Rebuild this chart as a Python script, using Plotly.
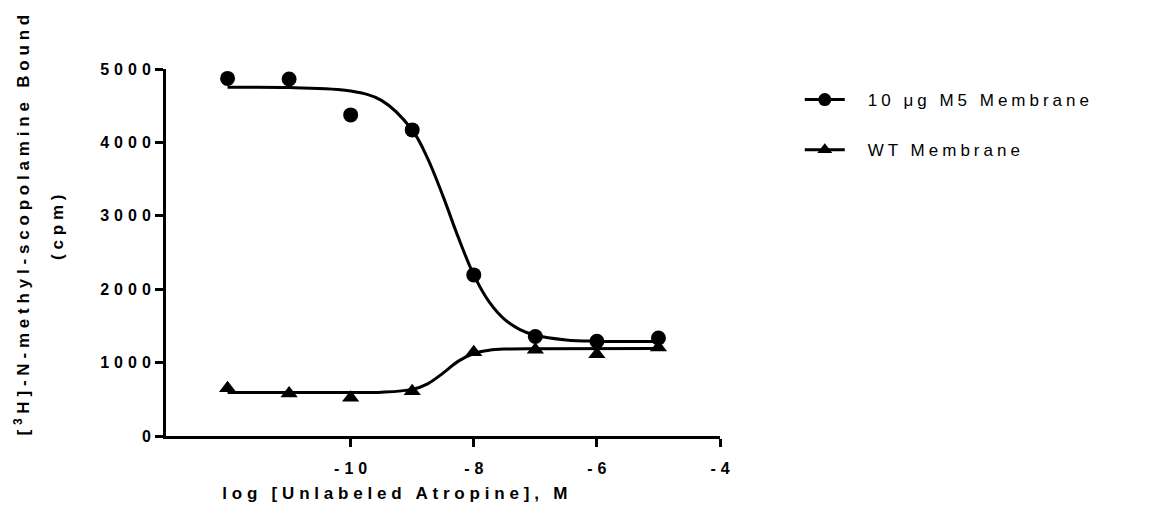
import plotly.graph_objects as go

# log [Unlabeled Atropine], M
x_points = [-12, -11, -10, -9, -8, -7, -6, -5]
m5_points = [4872, 4864, 4375, 4170, 2195, 1355, 1290, 1335]
wt_points = [650, 580, 520, 610, 1140, 1175, 1115, 1205]

# fitted curves
m5_curve_x = [-12, -11, -10, -9.5, -9, -8.75, -8.5, -8.25, -8, -7.75, -7.5, -7.25, -7, -6.5, -6, -5]
m5_curve_y = [4750, 4747, 4701, 4573, 4169, 3783, 3268, 2702, 2195, 1826, 1588, 1449, 1372, 1309, 1291, 1286]
wt_curve_x = [-12, -10, -9.5, -9, -8.75, -8.5, -8.25, -8, -7.75, -7.5, -7, -5]
wt_curve_y = [591, 592, 596, 635, 711, 857, 1020, 1124, 1168, 1184, 1190, 1191]

x_ticks = [-10, -8, -6, -4]
y_ticks = [0, 1000, 2000, 3000, 4000, 5000]

series_names = ["10 μg M5 Membrane", "WT Membrane"]
x_title = "log [Unlabeled Atropine], M"
y_title = "[<sup>3</sup>H]-N-methyl-scopolamine Bound"
y_title_2 = "(cpm)"

FONT = "Liberation Sans, Arial, sans-serif"
fig = go.Figure()

fig.add_trace(go.Scatter(x=m5_curve_x, y=m5_curve_y, mode="lines", line=dict(color="black", width=3, shape="spline"),
                         showlegend=False, hoverinfo="skip"))
fig.add_trace(go.Scatter(x=wt_curve_x, y=wt_curve_y, mode="lines", line=dict(color="black", width=3, shape="spline"),
                         showlegend=False, hoverinfo="skip"))
fig.add_trace(go.Scatter(x=x_points, y=m5_points, mode="markers",
                         marker=dict(symbol="circle", size=15, color="black"), showlegend=False))
fig.add_trace(go.Scatter(x=x_points, y=wt_points, mode="markers",
                         marker=dict(symbol="triangle-up", size=15, color="black"), showlegend=False))

# legend entries
fig.add_trace(go.Scatter(x=[None], y=[None], mode="lines+markers", name=series_names[0],
                         line=dict(color="black", width=3), marker=dict(symbol="circle", size=13, color="black"),
                         legend="legend"))
fig.add_trace(go.Scatter(x=[None], y=[None], mode="lines+markers", name=series_names[1],
                         line=dict(color="black", width=3), marker=dict(symbol="triangle-up", size=13, color="black"),
                         legend="legend2"))

axis_common = dict(showline=True, linewidth=3, linecolor="black", ticks="outside", ticklen=8, tickwidth=3,
                   tickcolor="black", showgrid=False, zeroline=False,
                   tickfont=dict(family=FONT, size=16, color="black", weight="bold"))

legend_common = dict(xanchor="left", yanchor="middle", bgcolor="rgba(0,0,0,0)", itemwidth=40,
                     font=dict(family=FONT, size=17, color="black"))

fig.update_layout(
    width=1155, height=526,
    margin=dict(l=158, r=443, t=61, b=98),
    plot_bgcolor="white", paper_bgcolor="white",
    xaxis=dict(range=[-13, -4], tickvals=x_ticks, ticktext=[str(v) for v in x_ticks],
               ticklabelstandoff=8, **axis_common),
    yaxis=dict(range=[0, 5000], tickvals=y_ticks, ticktext=[str(v) for v in y_ticks],
               ticklabelstandoff=1, **axis_common),
    legend=dict(x=1.144, y=0.9155, **legend_common),
    legend2=dict(x=1.144, y=0.779, **legend_common),
    annotations=[
        dict(text=x_title, xref="paper", yref="paper", x=0.417, y=0, yshift=-57,
             xanchor="center", yanchor="middle", showarrow=False,
             font=dict(family=FONT, size=17, color="black", weight="bold")),
        dict(text=y_title, xref="paper", yref="paper", x=0, y=0.58,
             xshift=-144, xanchor="center", yanchor="middle", textangle=-90, showarrow=False,
             font=dict(family=FONT, size=17, color="black", weight="bold")),
        dict(text=y_title_2, xref="paper", yref="paper", x=0, y=0.575,
             xshift=-108, xanchor="center", yanchor="middle", textangle=-90, showarrow=False,
             font=dict(family=FONT, size=17, color="black", weight="bold")),
    ],
)

post = """
var gd = document.getElementById('{plot_id}');
function spacing(){
  gd.querySelectorAll('.xtick text').forEach(function(t){ t.style.letterSpacing='5px'; t.setAttribute('dx', '2.5'); });
  gd.querySelectorAll('.ytick text').forEach(function(t){ t.style.letterSpacing='5px'; t.setAttribute('dx', '5'); });
  gd.querySelectorAll('.annotation-text').forEach(function(t){ t.style.letterSpacing='4.8px'; });
  gd.querySelectorAll('[class*="legend"] text.legendtext, .legendtext, g.legend2 text').forEach(function(t){
    t.style.letterSpacing='4px'; t.setAttribute('dx', '18'); });
  gd.querySelectorAll('[class*="legend"], [class*="legend"] [clip-path]').forEach(function(e){ e.removeAttribute('clip-path'); });
}
spacing();
gd.on('plotly_afterplot', spacing);
setTimeout(spacing, 50);
setTimeout(spacing, 300);
setTimeout(spacing, 1000);
"""

fig.write_html("out.html", post_script=post)
